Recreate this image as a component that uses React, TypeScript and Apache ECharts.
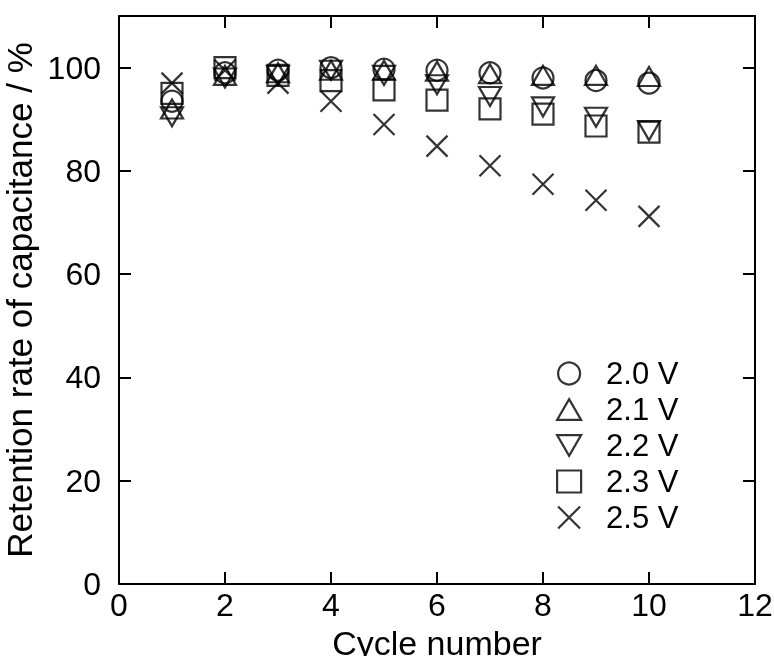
import React, { useEffect, useRef } from "react";
import * as echarts from "echarts";

const cycles = [1, 2, 3, 4, 5, 6, 7, 8, 9, 10];
const seriesNames = ["2.0 V", "2.1 V", "2.2 V", "2.3 V", "2.5 V"];
const v20 = [93.5, 99, 99.5, 100, 99.7, 99.5, 99, 98, 97.5, 97];
const v21 = [92, 98.5, 99, 99.5, 99.5, 99.3, 98.8, 98.5, 98.5, 98.3];
const v22 = [90.5, 98, 98.5, 99.5, 98.5, 96.7, 94.4, 92.4, 90.4, 87.8];
const v23 = [95, 100, 98.5, 97.5, 95.7, 93.7, 92, 91, 88.7, 87.5];
const v25 = [97, 99.5, 97, 93.5, 89, 84.8, 81, 77.4, 74.3, 71.2];
const xTicks = [0, 2, 4, 6, 8, 10, 12];
const yTicks = [0, 20, 40, 60, 80, 100];

const FONT = "'Liberation Sans', Arial, sans-serif";

export default function App() {
  const ref = useRef<HTMLDivElement>(null);
  useEffect(() => {
    const chart = echarts.init(ref.current!, null, { renderer: "svg" });
    const values = [v20, v21, v22, v23, v25];
    const symbols: any[] = [
      { symbol: "circle", size: 21 },
      { symbol: "path://M5,0L10,8.66L0,8.66Z", size: [22, 19] },
      { symbol: "path://M0,0L10,0L5,8.66Z", size: [22, 19] },
      { symbol: "rect", size: 21 },
      { symbol: "path://M0,0L10,10M10,0L0,10", size: 21 },
    ];
    const itemStyle = { color: "rgba(0,0,0,0)", borderColor: "#000", borderWidth: 2.2 };
    const series = values.map((vals, i) => ({
      name: seriesNames[i],
      type: "scatter",
      symbol: symbols[i].symbol,
      symbolSize: symbols[i].size,
      itemStyle,
      data: vals.map((v, j) => [cycles[j], v]),
      z: 2 + i,
    }));
    const axisLine = { show: true, onZero: false, lineStyle: { color: "#000", width: 2 } };
    const axisTick = { show: true, inside: true, length: 12, lineStyle: { color: "#000", width: 2 } };
    chart.setOption({
      animation: false,
      textStyle: { fontFamily: FONT },
      grid: {
        left: 119,
        right: 19,
        top: 16,
        bottom: 72,
        containLabel: false,
        outerBoundsMode: "none",
      },
      legend: {
        orient: "vertical",
        left: 551,
        top: 353,
        itemWidth: 24,
        itemHeight: 22,
        itemGap: 5,
        data: seriesNames.map((n, i) => ({
          name: n,
          icon: symbols[i].symbol,
          itemStyle,
        })),
        textStyle: {
          fontSize: 31,
          color: "#000",
          fontFamily: FONT,
          lineHeight: 30,
          padding: [0, 0, 0, 20],
        },
      },
      xAxis: [
        {
          type: "value",
          min: xTicks[0],
          max: xTicks[xTicks.length - 1],
          interval: 2,
          name: "Cycle number",
          nameLocation: "middle",
          nameGap: 25,
          nameTextStyle: { fontSize: 34, color: "#000", fontFamily: FONT, lineHeight: 34 },
          axisLine,
          axisTick,
          splitLine: { show: false },
          axisLabel: { fontSize: 32, color: "#000", margin: 5, fontFamily: FONT },
        },
        {
          type: "value",
          position: "top",
          min: xTicks[0],
          max: xTicks[xTicks.length - 1],
          interval: 2,
          axisLine,
          axisTick,
          splitLine: { show: false },
          axisLabel: { show: false },
        },
      ],
      yAxis: [
        {
          type: "value",
          min: 0,
          max: 110,
          interval: 20,
          name: "Retention rate of capacitance / %",
          nameLocation: "middle",
          nameGap: 69,
          nameTextStyle: { fontSize: 35, color: "#000", fontFamily: FONT },
          axisLine,
          axisTick,
          splitLine: { show: false },
          axisLabel: {
            fontSize: 32,
            color: "#000",
            margin: 18,
            fontFamily: FONT,
            formatter: (v: number) => (yTicks.includes(v) ? String(v) : ""),
          },
        },
        {
          type: "value",
          position: "right",
          min: 0,
          max: 110,
          interval: 20,
          axisLine,
          axisTick,
          splitLine: { show: false },
          axisLabel: { show: false },
        },
      ],
      series,
    });
    return () => chart.dispose();
  }, []);
  return (
    <div
      ref={ref}
      style={{ position: "fixed", left: 0, top: 0, width: 774, height: 656 }}
    />
  );
}
